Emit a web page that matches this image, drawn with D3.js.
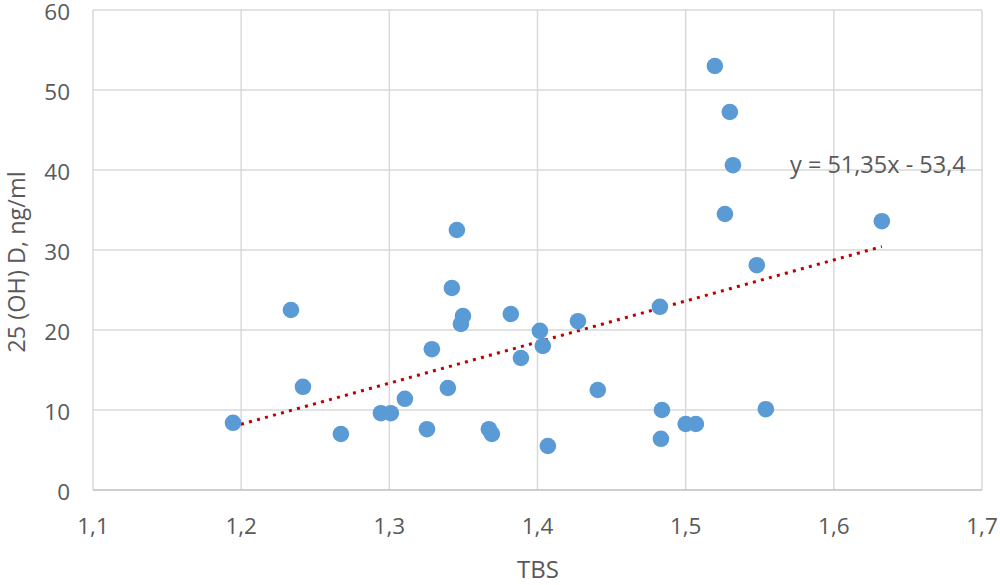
<!DOCTYPE html>
<html>
<head>
<meta charset="utf-8">
<script src="https://cdn.jsdelivr.net/npm/d3@7"></script>
<style>
  body { margin: 0; background: #fff; }
  text { font-family: "Open Sans", "Noto Sans", sans-serif; fill: #595959; }
</style>
</head>
<body>
<svg id="chart" width="1000" height="585"></svg>
<script>
// TBS values (x) and 25(OH)D values (y)
const tbs = [1.1945, 1.2336, 1.2417, 1.2673, 1.2943, 1.301, 1.3105, 1.3254, 1.3287,
  1.3395, 1.3422, 1.3456, 1.3483, 1.3497, 1.3672, 1.3692, 1.382, 1.3888, 1.4016,
  1.4036, 1.407, 1.4273, 1.4407, 1.4826, 1.4833, 1.484, 1.5, 1.5069, 1.5197,
  1.5265, 1.5298, 1.5319, 1.548, 1.5541, 1.6324];
const vitD = [8.4, 22.5, 12.9, 7.0, 9.6, 9.6, 11.4, 7.6, 17.6,
  12.75, 25.25, 32.5, 20.75, 21.75, 7.6, 7.0, 22.0, 16.5, 19.9,
  18.0, 5.5, 21.1, 12.5, 22.9, 6.4, 10.0, 8.25, 8.25, 53.0,
  34.5, 47.25, 40.6, 28.1, 10.1, 33.6];

const xTicks = [1.1, 1.2, 1.3, 1.4, 1.5, 1.6, 1.7];
const yTicks = [0, 10, 20, 30, 40, 50, 60];
const slope = 51.35, intercept = -53.4;
const eqLabel = "y = 51,35x - 53,4";

const svg = d3.select("#chart");
const x = d3.scaleLinear().domain([1.1, 1.7]).range([93, 982]);
const y = d3.scaleLinear().domain([0, 60]).range([490, 10]);
const fmt = d => String(d).replace(".", ",");

// gridlines
svg.append("g").selectAll("line")
  .data(yTicks.filter(d => d > 0))
  .enter().append("line")
  .attr("x1", x(1.1)).attr("x2", x(1.7))
  .attr("y1", d => y(d)).attr("y2", d => y(d))
  .attr("stroke", "#d9d9d9").attr("stroke-width", 1.5);

svg.append("g").selectAll("line")
  .data(xTicks)
  .enter().append("line")
  .attr("x1", d => x(d)).attr("x2", d => x(d))
  .attr("y1", y(0)).attr("y2", y(60))
  .attr("stroke", "#d9d9d9").attr("stroke-width", 1.5);

// bottom axis line
svg.append("line")
  .attr("x1", x(1.1)).attr("x2", x(1.7))
  .attr("y1", y(0)).attr("y2", y(0))
  .attr("stroke", "#bfbfbf").attr("stroke-width", 1.5);

// tick labels
svg.append("g").selectAll("text")
  .data(yTicks)
  .enter().append("text")
  .attr("x", 70).attr("y", d => y(d) + 9.5)
  .attr("text-anchor", "end")
  .style("font-size", "22.5px")
  .text(d => d);

svg.append("g").selectAll("text")
  .data(xTicks)
  .enter().append("text")
  .attr("x", d => x(d)).attr("y", 534)
  .attr("text-anchor", "middle")
  .style("font-size", "22.5px")
  .text(fmt);

// axis titles
svg.append("text")
  .attr("x", 538).attr("y", 578)
  .attr("text-anchor", "middle")
  .style("font-size", "24px")
  .text("TBS");

svg.append("text")
  .attr("transform", "translate(25,262) rotate(-90)")
  .attr("text-anchor", "middle")
  .style("font-size", "23.5px")
  .text("25 (OH) D, ng/ml");

// trend line
const x0 = d3.min(tbs), x1 = d3.max(tbs);
svg.append("line")
  .attr("x1", x(x0)).attr("y1", y(slope * x0 + intercept))
  .attr("x2", x(x1)).attr("y2", y(slope * x1 + intercept))
  .attr("stroke", "#c00000")
  .attr("stroke-width", 3)
  .attr("stroke-dasharray", "3,5.3");

// points
svg.append("g").selectAll("circle")
  .data(tbs.map((d, i) => [d, vitD[i]]))
  .enter().append("circle")
  .attr("cx", d => x(d[0]))
  .attr("cy", d => y(d[1]))
  .attr("r", 8.3)
  .attr("fill", "#5b9bd5");

svg.append("text")
  .attr("x", 790).attr("y", 173)
  .style("font-size", "23.5px")
  .text(eqLabel);
</script>
</body>
</html>
